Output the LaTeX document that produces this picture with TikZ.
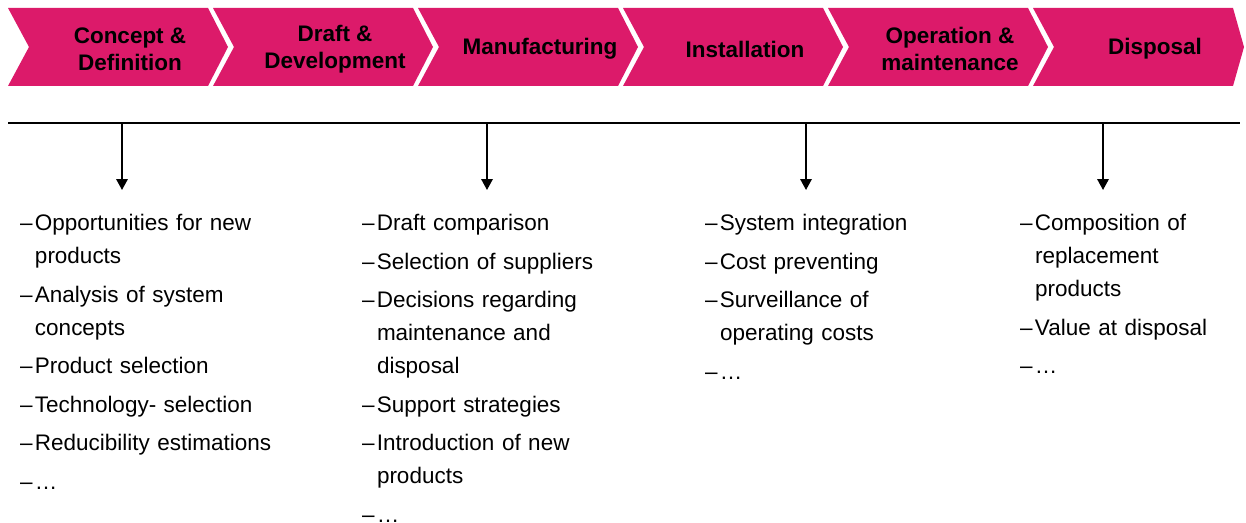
\documentclass[tikz,border=0pt]{standalone}
\usepackage{fontspec}
\setmainfont{Liberation Sans}
\usetikzlibrary{arrows.meta, positioning}

\definecolor{phasepink}{RGB}{220,26,106}

% hanging dash for the task lists
\newlength{\dashw}
\setlength{\dashw}{0.3cm}
\newcommand{\itm}[1]{\par\hangindent=\dashw\hangafter=1\noindent\makebox[\dashw][l]{\textendash}#1}

\begin{document}
\begin{tikzpicture}[x=0.02cm, y=-0.02cm, line width=1pt, >={Triangle[length=2.2mm, width=2.3mm]},
	phase/.style={fill=phasepink, draw=none},
	phase text/.style={font=\bfseries\fontsize{12.8}{15.4}\selectfont, align=center, text=black},
	tasks/.style={anchor=north west, inner sep=0pt, outer sep=0pt, text width=6cm, align=left,
		font=\fontsize{12.8}{18.8}\selectfont, execute at begin node={\setlength{\parskip}{0.11cm}}}]
	\useasboundingbox (0,0) rectangle (1246,523);

	% life cycle phases, the last one with a blunter tip
	\foreach \name/\label [count=\i from 0] in {concept/{Concept \&\\Definition}, draft/{Draft \&\\Development},
		manufacturing/Manufacturing, installation/Installation, operation/{Operation \&\\maintenance}, disposal/Disposal} {
		\pgfmathsetmacro{\xo}{8+205*\i}
		\pgfmathsetmacro{\tip}{\i==5 ? 11 : 20}
		\fill[phase] (\xo,8) -- ++(200,0) -- ++(\tip,39) -- ++(-\tip,39) -- ++(-200,0) -- ++(21,-39) -- cycle;
		\node[phase text] (\name) at (\xo+122,49) {\label};
	}

	\coordinate (rule west) at (8,123);
	\coordinate (rule east) at (1240,123);
	\draw (rule west) -- (rule east);

	\node[tasks] (concept tasks) at (20,192) {\itm{Opportunities for new\newline products}\itm{Analysis of system\newline concepts}\itm{Product selection}\itm{Technology- selection}\itm{Reducibility estimations}\itm{…}};
	\node[tasks] (draft tasks) at (362,192) {\itm{Draft comparison}\itm{Selection of suppliers}\itm{Decisions regarding\newline maintenance and\newline disposal}\itm{Support strategies}\itm{Introduction of new\newline products}\itm{…}};
	\node[tasks] (install tasks) at (705,192) {\itm{System integration}\itm{Cost preventing}\itm{Surveillance of\newline operating costs}\itm{…}};
	\node[tasks] (disposal tasks) at (1020,192) {\itm{Composition of\newline replacement\newline products}\itm{Value at disposal}\itm{…}};

	\coordinate (tap1) at (122,123);
	\coordinate (tap2) at (487,123);
	\coordinate (tap3) at (806,123);
	\coordinate (tap4) at (1103,123);
	\path[->, shorten >=0.04cm]
		(tap1) edge (tap1 |- concept tasks.north)
		(tap2) edge (tap2 |- draft tasks.north)
		(tap3) edge (tap3 |- install tasks.north)
		(tap4) edge (tap4 |- disposal tasks.north);
\end{tikzpicture}
\end{document}
